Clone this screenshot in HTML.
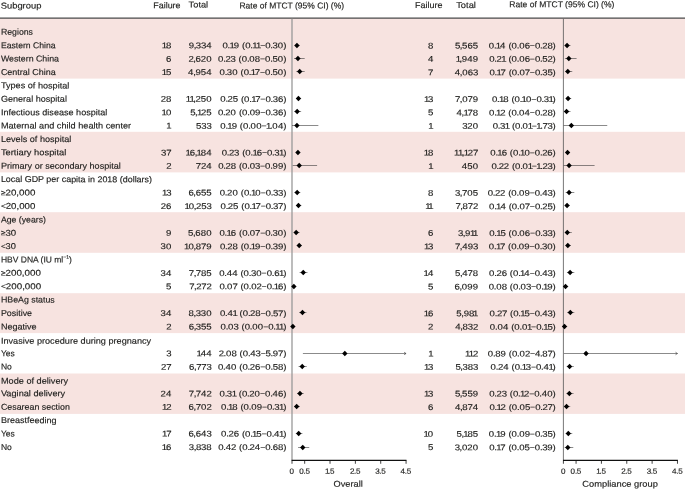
<!DOCTYPE html>
<html lang="en"><head><meta charset="utf-8"><title>Subgroup analysis of MTCT rate</title>
<style>html,body{margin:0;padding:0;background:#fff}svg{display:block}text{font-family:"Liberation Sans",sans-serif;fill:#1d1d1b;stroke:#1d1d1b;stroke-width:0.15px}</style></head><body>
<svg width="685" height="489" viewBox="0 0 685 489" font-size="8.5">
<rect width="685" height="489" fill="#fff"/>
<rect x="0" y="18.30" width="685" height="60.30" fill="#f7e3e0"/>
<rect x="0" y="131.80" width="685" height="40.60" fill="#f7e3e0"/>
<rect x="0" y="212.20" width="685" height="40.60" fill="#f7e3e0"/>
<rect x="0" y="293.20" width="685" height="39.90" fill="#f7e3e0"/>
<rect x="0" y="373.50" width="685" height="40.40" fill="#f7e3e0"/>
<text transform="translate(0.70 8.5) rotate(0.03)" textLength="40.70" lengthAdjust="spacingAndGlyphs">Subgroup</text>
<text transform="translate(153.30 8.2) rotate(0.03)" textLength="27.20" lengthAdjust="spacingAndGlyphs">Failure</text>
<text transform="translate(188.60 7.4) rotate(0.03)" textLength="19.60" lengthAdjust="spacingAndGlyphs">Total</text>
<text transform="translate(239.40 8.4) rotate(0.03)" textLength="104.70" lengthAdjust="spacingAndGlyphs">Rate of MTCT (95% CI) (%)</text>
<text transform="translate(415.10 8.05) rotate(0.03)" textLength="27.40" lengthAdjust="spacingAndGlyphs">Failure</text>
<text transform="translate(456.20 8.05) rotate(0.03)" textLength="19.70" lengthAdjust="spacingAndGlyphs">Total</text>
<text transform="translate(509.30 7.2) rotate(0.03)" textLength="105.10" lengthAdjust="spacingAndGlyphs">Rate of MTCT (95% CI) (%)</text>
<line x1="0" y1="18.2" x2="685" y2="18.2" stroke="#484848" stroke-width="1.2"/>
<text id="lab0" transform="translate(0.9 34.80) rotate(0.03)" textLength="32.07" lengthAdjust="spacingAndGlyphs">Regions</text>
<text id="lab1" transform="translate(0.9 48.19) rotate(0.03)" textLength="54.65" lengthAdjust="spacingAndGlyphs">Eastern China</text>
<text transform="translate(0 48.19) rotate(0.03) scale(1.157 1)" font-size="8.3" x="139.85 143.50" y="0">18</text>
<text transform="translate(0 48.19) rotate(0.03) scale(1.157 1)" font-size="8.3" x="163.08 167.39 169.26 173.66 178.25" y="0">9,334</text>
<text transform="translate(0 48.19) rotate(0.03) scale(1.157 1)" font-size="8.3" x="192.29 196.71 198.36 202.06 206.84 209.16 211.91 216.33 217.98 221.31 225.27 229.24 233.66 235.55 240.17 244.77" y="0">0.19 (0.11<tspan font-size="6.4" dy="-1.15">–</tspan><tspan dy="1.15">0.30)</tspan></text>
<text transform="translate(0 48.19) rotate(0.03) scale(1.157 1)" font-size="8.3" x="369.95" y="0">8</text>
<text transform="translate(0 48.19) rotate(0.03) scale(1.157 1)" font-size="8.3" x="393.20 397.46 399.42 404.05 408.67" y="0">5,565</text>
<text transform="translate(0 48.19) rotate(0.03) scale(1.157 1)" font-size="8.3" x="422.45 426.87 428.53 432.26 437.09 439.41 442.16 446.58 448.69 453.44 458.38 462.34 466.76 468.65 473.15 477.62" y="0">0.14 (0.06<tspan font-size="6.4" dy="-1.15">–</tspan><tspan dy="1.15">0.28)</tspan></text>
<text id="lab2" transform="translate(0.9 61.58) rotate(0.03)" textLength="58.12" lengthAdjust="spacingAndGlyphs">Western China</text>
<text transform="translate(0 61.58) rotate(0.03) scale(1.157 1)" font-size="8.3" x="143.46" y="0">6</text>
<text transform="translate(0 61.58) rotate(0.03) scale(1.157 1)" font-size="8.3" x="162.86 167.04 169.04 173.58 178.20" y="0">2,620</text>
<text transform="translate(0 61.58) rotate(0.03) scale(1.157 1)" font-size="8.3" x="188.53 192.95 194.84 199.25 203.90 206.22 208.97 213.39 215.50 220.21 225.10 229.07 233.48 235.46 240.17 244.77" y="0">0.23 (0.08<tspan font-size="6.4" dy="-1.15">–</tspan><tspan dy="1.15">0.50)</tspan></text>
<text transform="translate(0 61.58) rotate(0.03) scale(1.157 1)" font-size="8.3" x="369.86" y="0">4</text>
<text transform="translate(0 61.58) rotate(0.03) scale(1.157 1)" font-size="8.3" x="393.87 397.20 399.21 403.92 408.63" y="0">1,949</text>
<text transform="translate(0 61.58) rotate(0.03) scale(1.157 1)" font-size="8.3" x="422.80 427.22 429.11 433.28 437.09 439.41 442.16 446.58 448.69 453.44 458.38 462.34 466.76 468.74 473.23 477.62" y="0">0.21 (0.06<tspan font-size="6.4" dy="-1.15">–</tspan><tspan dy="1.15">0.52)</tspan></text>
<text id="lab3" transform="translate(0.9 74.97) rotate(0.03)" textLength="54.76" lengthAdjust="spacingAndGlyphs">Central China</text>
<text transform="translate(0 74.97) rotate(0.03) scale(1.157 1)" font-size="8.3" x="139.85 143.50" y="0">15</text>
<text transform="translate(0 74.97) rotate(0.03) scale(1.157 1)" font-size="8.3" x="162.60 166.95 168.95 173.58 178.25" y="0">4,954</text>
<text transform="translate(0 74.97) rotate(0.03) scale(1.157 1)" font-size="8.3" x="189.78 194.20 196.09 200.72 205.59 207.91 210.66 215.07 216.73 220.29 225.10 229.07 233.48 235.46 240.17 244.77" y="0">0.30 (0.17<tspan font-size="6.4" dy="-1.15">–</tspan><tspan dy="1.15">0.50)</tspan></text>
<text transform="translate(0 74.97) rotate(0.03) scale(1.157 1)" font-size="8.3" x="370.03" y="0">7</text>
<text transform="translate(0 74.97) rotate(0.03) scale(1.157 1)" font-size="8.3" x="393.03 397.38 399.46 404.22 408.76" y="0">4,063</text>
<text transform="translate(0 74.97) rotate(0.03) scale(1.157 1)" font-size="8.3" x="423.06 427.48 429.13 432.70 437.35 439.67 442.42 446.84 448.95 453.57 458.38 462.34 466.76 468.65 473.15 477.62" y="0">0.17 (0.07<tspan font-size="6.4" dy="-1.15">–</tspan><tspan dy="1.15">0.35)</tspan></text>
<text id="lab4" transform="translate(0.9 88.36) rotate(0.03)" textLength="68.44" lengthAdjust="spacingAndGlyphs">Types of hospital</text>
<text id="lab5" transform="translate(0.9 101.75) rotate(0.03)" textLength="66.04" lengthAdjust="spacingAndGlyphs">General hospital</text>
<text transform="translate(0 101.75) rotate(0.03) scale(1.157 1)" font-size="8.3" x="139.01 143.50" y="0">28</text>
<text transform="translate(0 101.75) rotate(0.03) scale(1.157 1)" font-size="8.3" x="160.46 163.79 167.13 169.00 173.49 178.20" y="0">11,250</text>
<text transform="translate(0 101.75) rotate(0.03) scale(1.157 1)" font-size="8.3" x="190.39 194.81 196.70 201.19 205.93 208.26 211.00 215.42 217.07 220.64 225.45 229.41 233.83 235.72 240.26 244.77" y="0">0.25 (0.17<tspan font-size="6.4" dy="-1.15">–</tspan><tspan dy="1.15">0.36)</tspan></text>
<text transform="translate(0 101.75) rotate(0.03) scale(1.157 1)" font-size="8.3" x="366.47 370.03" y="0">13</text>
<text transform="translate(0 101.75) rotate(0.03) scale(1.157 1)" font-size="8.3" x="393.20 397.38 399.46 404.09 408.63" y="0">7,079</text>
<text transform="translate(0 101.75) rotate(0.03) scale(1.157 1)" font-size="8.3" x="425.22 429.64 431.29 434.94 439.68 442.01 444.75 449.17 450.83 454.61 459.63 463.60 468.01 469.91 474.08 477.62" y="0">0.18 (0.10<tspan font-size="6.4" dy="-1.15">–</tspan><tspan dy="1.15">0.31)</tspan></text>
<text id="lab6" transform="translate(0.9 115.14) rotate(0.03)" textLength="106.47" lengthAdjust="spacingAndGlyphs">Infectious disease hospital</text>
<text transform="translate(0 115.14) rotate(0.03) scale(1.157 1)" font-size="8.3" x="139.59 143.37" y="0">10</text>
<text transform="translate(0 115.14) rotate(0.03) scale(1.157 1)" font-size="8.3" x="164.37 168.64 170.27 173.84 178.33" y="0">5,125</text>
<text transform="translate(0 115.14) rotate(0.03) scale(1.157 1)" font-size="8.3" x="188.36 192.77 194.67 199.29 204.16 206.48 209.23 213.65 215.76 220.51 225.45 229.41 233.83 235.72 240.26 244.77" y="0">0.20 (0.09<tspan font-size="6.4" dy="-1.15">–</tspan><tspan dy="1.15">0.36)</tspan></text>
<text transform="translate(0 115.14) rotate(0.03) scale(1.157 1)" font-size="8.3" x="369.95" y="0">5</text>
<text transform="translate(0 115.14) rotate(0.03) scale(1.157 1)" font-size="8.3" x="394.62 398.98 400.61 404.17 408.67" y="0">4,178</text>
<text transform="translate(0 115.14) rotate(0.03) scale(1.157 1)" font-size="8.3" x="422.71 427.13 428.79 432.35 437.01 439.33 442.07 446.49 448.60 453.40 458.38 462.34 466.76 468.65 473.15 477.62" y="0">0.12 (0.04<tspan font-size="6.4" dy="-1.15">–</tspan><tspan dy="1.15">0.28)</tspan></text>
<text id="lab7" transform="translate(0.9 128.53) rotate(0.03)" textLength="130.21" lengthAdjust="spacingAndGlyphs">Maternal and child health center</text>
<text transform="translate(0 128.53) rotate(0.03) scale(1.157 1)" font-size="8.3" x="143.61" y="0">1</text>
<text transform="translate(0 128.53) rotate(0.03) scale(1.157 1)" font-size="8.3" x="169.52 174.01 178.42" y="0">533</text>
<text transform="translate(0 128.53) rotate(0.03) scale(1.157 1)" font-size="8.3" x="190.43 194.85 196.50 200.20 204.98 207.30 210.05 214.47 216.58 221.42 226.44 229.95 233.31 235.42 240.22 244.77" y="0">0.19 (0.00<tspan font-size="6.4" dy="-1.15">–</tspan><tspan dy="1.15">1.04)</tspan></text>
<text transform="translate(0 128.53) rotate(0.03) scale(1.157 1)" font-size="8.3" x="370.06" y="0">1</text>
<text transform="translate(0 128.53) rotate(0.03) scale(1.157 1)" font-size="8.3" x="399.51 403.92 408.54" y="0">320</text>
<text transform="translate(0 128.53) rotate(0.03) scale(1.157 1)" font-size="8.3" x="425.83 430.24 432.14 436.31 440.12 442.44 445.19 449.60 451.71 456.10 460.06 463.57 466.93 468.82 473.23 477.62" y="0">0.31 (0.01<tspan font-size="6.4" dy="-1.15">–</tspan><tspan dy="1.15">1.73)</tspan></text>
<text id="lab8" transform="translate(0.9 141.92) rotate(0.03)" textLength="70.42" lengthAdjust="spacingAndGlyphs">Levels of hospital</text>
<text id="lab9" transform="translate(0.9 155.31) rotate(0.03)" textLength="65.35" lengthAdjust="spacingAndGlyphs">Tertiary hospital</text>
<text transform="translate(0 155.31) rotate(0.03) scale(1.157 1)" font-size="8.3" x="139.18 143.59" y="0">37</text>
<text transform="translate(0 155.31) rotate(0.03) scale(1.157 1)" font-size="8.3" x="160.29 163.98 168.29 169.93 173.58 178.25" y="0">16,184</text>
<text transform="translate(0 155.31) rotate(0.03) scale(1.157 1)" font-size="8.3" x="191.64 196.06 197.95 202.36 207.01 209.34 212.08 216.50 218.16 221.85 226.79 230.75 235.17 237.06 241.23 244.77" y="0">0.23 (0.16<tspan font-size="6.4" dy="-1.15">–</tspan><tspan dy="1.15">0.31)</tspan></text>
<text transform="translate(0 155.31) rotate(0.03) scale(1.157 1)" font-size="8.3" x="366.30 369.95" y="0">18</text>
<text transform="translate(0 155.31) rotate(0.03) scale(1.157 1)" font-size="8.3" x="392.49 395.81 399.15 400.78 404.35 408.76" y="0">11,127</text>
<text transform="translate(0 155.31) rotate(0.03) scale(1.157 1)" font-size="8.3" x="423.79 428.21 429.87 433.56 438.35 440.67 443.41 447.83 449.49 453.27 458.29 462.26 466.67 468.57 473.10 477.62" y="0">0.16 (0.10<tspan font-size="6.4" dy="-1.15">–</tspan><tspan dy="1.15">0.26)</tspan></text>
<text id="lab10" transform="translate(0.9 168.70) rotate(0.03)" textLength="119.93" lengthAdjust="spacingAndGlyphs">Primary or secondary hospital</text>
<text transform="translate(0 168.70) rotate(0.03) scale(1.157 1)" font-size="8.3" x="143.59" y="0">2</text>
<text transform="translate(0 168.70) rotate(0.03) scale(1.157 1)" font-size="8.3" x="169.26 173.66 178.25" y="0">724</text>
<text transform="translate(0 168.70) rotate(0.03) scale(1.157 1)" font-size="8.3" x="188.62 193.03 194.93 199.42 204.16 206.48 209.23 213.65 215.76 220.38 225.19 229.15 233.57 235.59 240.26 244.77" y="0">0.28 (0.03<tspan font-size="6.4" dy="-1.15">–</tspan><tspan dy="1.15">0.99)</tspan></text>
<text transform="translate(0 168.70) rotate(0.03) scale(1.157 1)" font-size="8.3" x="370.06" y="0">1</text>
<text transform="translate(0 168.70) rotate(0.03) scale(1.157 1)" font-size="8.3" x="399.16 403.83 408.54" y="0">450</text>
<text transform="translate(0 168.70) rotate(0.03) scale(1.157 1)" font-size="8.3" x="424.75 429.16 431.05 435.46 440.12 442.44 445.19 449.60 451.71 456.10 460.06 463.57 466.93 468.82 473.23 477.62" y="0">0.22 (0.01<tspan font-size="6.4" dy="-1.15">–</tspan><tspan dy="1.15">1.23)</tspan></text>
<text id="lab11" transform="translate(0.9 182.09) rotate(0.03)" textLength="151.09" lengthAdjust="spacingAndGlyphs">Local GDP per capita in 2018 (dollars)</text>
<text id="lab12" transform="translate(0.9 195.48) rotate(0.03)" textLength="34.46" lengthAdjust="spacingAndGlyphs"><tspan font-size="7.3" dy="-0.3">≥</tspan><tspan dy="0.3">20,000</tspan></text>
<text transform="translate(0 195.48) rotate(0.03) scale(1.157 1)" font-size="8.3" x="140.02 143.59" y="0">13</text>
<text transform="translate(0 195.48) rotate(0.03) scale(1.157 1)" font-size="8.3" x="162.82 167.13 169.13 173.75 178.33" y="0">6,655</text>
<text transform="translate(0 195.48) rotate(0.03) scale(1.157 1)" font-size="8.3" x="189.96 194.37 196.27 200.89 205.76 208.08 210.83 215.25 216.90 220.68 225.71 229.67 234.09 235.98 240.39 244.77" y="0">0.20 (0.10<tspan font-size="6.4" dy="-1.15">–</tspan><tspan dy="1.15">0.33)</tspan></text>
<text transform="translate(0 195.48) rotate(0.03) scale(1.157 1)" font-size="8.3" x="369.95" y="0">8</text>
<text transform="translate(0 195.48) rotate(0.03) scale(1.157 1)" font-size="8.3" x="393.28 397.46 399.33 403.96 408.67" y="0">3,705</text>
<text transform="translate(0 195.48) rotate(0.03) scale(1.157 1)" font-size="8.3" x="421.55 425.96 427.86 432.26 436.92 439.24 441.99 446.40 448.51 453.27 458.20 462.17 466.59 468.65 473.23 477.62" y="0">0.22 (0.09<tspan font-size="6.4" dy="-1.15">–</tspan><tspan dy="1.15">0.43)</tspan></text>
<text id="lab13" transform="translate(0.9 208.87) rotate(0.03)" textLength="34.44" lengthAdjust="spacingAndGlyphs"><tspan font-size="7.3" dy="-0.4">&lt;</tspan><tspan dy="0.4">20,000</tspan></text>
<text transform="translate(0 208.87) rotate(0.03) scale(1.157 1)" font-size="8.3" x="138.92 143.46" y="0">26</text>
<text transform="translate(0 208.87) rotate(0.03) scale(1.157 1)" font-size="8.3" x="159.38 163.16 167.56 169.43 173.92 178.42" y="0">10,253</text>
<text transform="translate(0 208.87) rotate(0.03) scale(1.157 1)" font-size="8.3" x="190.65 195.06 196.96 201.45 206.19 208.51 211.26 215.68 217.33 220.90 225.71 229.67 234.09 235.98 240.39 244.77" y="0">0.25 (0.17<tspan font-size="6.4" dy="-1.15">–</tspan><tspan dy="1.15">0.37)</tspan></text>
<text transform="translate(0 208.87) rotate(0.03) scale(1.157 1)" font-size="8.3" x="367.55 370.06" y="0">11</text>
<text transform="translate(0 208.87) rotate(0.03) scale(1.157 1)" font-size="8.3" x="393.72 397.90 399.85 404.35 408.76" y="0">7,872</text>
<text transform="translate(0 208.87) rotate(0.03) scale(1.157 1)" font-size="8.3" x="422.71 427.13 428.79 432.52 437.35 439.67 442.42 446.84 448.95 453.57 458.38 462.34 466.76 468.65 473.15 477.62" y="0">0.14 (0.07<tspan font-size="6.4" dy="-1.15">–</tspan><tspan dy="1.15">0.25)</tspan></text>
<text id="lab14" transform="translate(0.9 222.56) rotate(0.03)" textLength="45.03" lengthAdjust="spacingAndGlyphs">Age (years)</text>
<text id="lab15" transform="translate(0.9 235.65) rotate(0.03)" textLength="15.31" lengthAdjust="spacingAndGlyphs"><tspan font-size="7.3" dy="-0.3">≥</tspan><tspan dy="0.3">30</tspan></text>
<text transform="translate(0 235.65) rotate(0.03) scale(1.157 1)" font-size="8.3" x="143.46" y="0">9</text>
<text transform="translate(0 235.65) rotate(0.03) scale(1.157 1)" font-size="8.3" x="162.60 166.87 168.87 173.49 178.20" y="0">5,680</text>
<text transform="translate(0 235.65) rotate(0.03) scale(1.157 1)" font-size="8.3" x="189.70 194.11 195.77 199.46 204.25 206.57 209.32 213.73 215.84 220.47 225.27 229.24 233.66 235.55 240.17 244.77" y="0">0.16 (0.07<tspan font-size="6.4" dy="-1.15">–</tspan><tspan dy="1.15">0.30)</tspan></text>
<text transform="translate(0 235.65) rotate(0.03) scale(1.157 1)" font-size="8.3" x="369.91" y="0">6</text>
<text transform="translate(0 235.65) rotate(0.03) scale(1.157 1)" font-size="8.3" x="395.79 399.97 401.97 406.27 408.78" y="0">3,911</text>
<text transform="translate(0 235.65) rotate(0.03) scale(1.157 1)" font-size="8.3" x="422.80 427.22 428.87 432.52 437.26 439.59 442.33 446.75 448.86 453.61 458.55 462.52 466.93 468.82 473.23 477.62" y="0">0.15 (0.06<tspan font-size="6.4" dy="-1.15">–</tspan><tspan dy="1.15">0.33)</tspan></text>
<text id="lab16" transform="translate(0.9 249.04) rotate(0.03)" textLength="14.97" lengthAdjust="spacingAndGlyphs"><tspan font-size="7.3" dy="-0.4">&lt;</tspan><tspan dy="0.4">30</tspan></text>
<text transform="translate(0 249.04) rotate(0.03) scale(1.157 1)" font-size="8.3" x="138.75 143.37" y="0">30</text>
<text transform="translate(0 249.04) rotate(0.03) scale(1.157 1)" font-size="8.3" x="159.12 162.90 167.30 169.26 173.75 178.29" y="0">10,879</text>
<text transform="translate(0 249.04) rotate(0.03) scale(1.157 1)" font-size="8.3" x="190.13 194.55 196.44 200.93 205.67 208.00 210.74 215.16 216.82 220.51 225.45 229.41 233.83 235.72 240.26 244.77" y="0">0.28 (0.19<tspan font-size="6.4" dy="-1.15">–</tspan><tspan dy="1.15">0.39)</tspan></text>
<text transform="translate(0 249.04) rotate(0.03) scale(1.157 1)" font-size="8.3" x="366.47 370.03" y="0">13</text>
<text transform="translate(0 249.04) rotate(0.03) scale(1.157 1)" font-size="8.3" x="393.28 397.46 399.51 404.22 408.76" y="0">7,493</text>
<text transform="translate(0 249.04) rotate(0.03) scale(1.157 1)" font-size="8.3" x="422.54 426.96 428.61 432.18 436.83 439.15 441.90 446.32 448.43 453.18 458.12 462.08 466.50 468.39 473.02 477.62" y="0">0.17 (0.09<tspan font-size="6.4" dy="-1.15">–</tspan><tspan dy="1.15">0.30)</tspan></text>
<text id="lab17" transform="translate(0.9 262.43) rotate(0.03)" textLength="71.00" lengthAdjust="spacingAndGlyphs">HBV DNA (IU ml<tspan font-size="5.1" dy="-3.6">−1</tspan><tspan dy="3.6">)</tspan></text>
<text id="lab18" transform="translate(0.9 275.82) rotate(0.03)" textLength="40.04" lengthAdjust="spacingAndGlyphs"><tspan font-size="7.3" dy="-0.3">≥</tspan><tspan dy="0.3">200,000</tspan></text>
<text transform="translate(0 275.82) rotate(0.03) scale(1.157 1)" font-size="8.3" x="138.83 143.41" y="0">34</text>
<text transform="translate(0 275.82) rotate(0.03) scale(1.157 1)" font-size="8.3" x="163.21 167.39 169.26 173.75 178.33" y="0">7,785</text>
<text transform="translate(0 275.82) rotate(0.03) scale(1.157 1)" font-size="8.3" x="189.44 193.85 195.92 200.67 205.50 207.82 210.57 214.99 216.88 221.50 226.53 230.49 234.91 236.93 241.23 244.77" y="0">0.44 (0.30<tspan font-size="6.4" dy="-1.15">–</tspan><tspan dy="1.15">0.61)</tspan></text>
<text transform="translate(0 275.82) rotate(0.03) scale(1.157 1)" font-size="8.3" x="366.12 369.86" y="0">14</text>
<text transform="translate(0 275.82) rotate(0.03) scale(1.157 1)" font-size="8.3" x="393.28 397.55 399.59 404.17 408.67" y="0">5,478</text>
<text transform="translate(0 275.82) rotate(0.03) scale(1.157 1)" font-size="8.3" x="422.71 427.13 429.02 433.56 438.35 440.67 443.41 447.83 449.49 453.22 458.20 462.17 466.59 468.65 473.23 477.62" y="0">0.26 (0.14<tspan font-size="6.4" dy="-1.15">–</tspan><tspan dy="1.15">0.43)</tspan></text>
<text id="lab19" transform="translate(0.9 289.21) rotate(0.03)" textLength="40.29" lengthAdjust="spacingAndGlyphs"><tspan font-size="7.3" dy="-0.4">&lt;</tspan><tspan dy="0.4">200,000</tspan></text>
<text transform="translate(0 289.21) rotate(0.03) scale(1.157 1)" font-size="8.3" x="143.50" y="0">5</text>
<text transform="translate(0 289.21) rotate(0.03) scale(1.157 1)" font-size="8.3" x="163.55 167.73 169.60 174.01 178.42" y="0">7,272</text>
<text transform="translate(0 289.21) rotate(0.03) scale(1.157 1)" font-size="8.3" x="189.70 194.11 196.22 200.85 205.50 207.82 210.57 214.99 217.10 221.72 226.53 230.49 234.91 236.56 240.26 244.77" y="0">0.07 (0.02<tspan font-size="6.4" dy="-1.15">–</tspan><tspan dy="1.15">0.16)</tspan></text>
<text transform="translate(0 289.21) rotate(0.03) scale(1.157 1)" font-size="8.3" x="369.95" y="0">5</text>
<text transform="translate(0 289.21) rotate(0.03) scale(1.157 1)" font-size="8.3" x="392.81 397.12 399.21 403.96 408.63" y="0">6,099</text>
<text transform="translate(0 289.21) rotate(0.03) scale(1.157 1)" font-size="8.3" x="422.37 426.78 428.89 433.60 438.35 440.67 443.41 447.83 449.94 454.56 459.37 463.34 467.75 469.41 473.10 477.62" y="0">0.08 (0.03<tspan font-size="6.4" dy="-1.15">–</tspan><tspan dy="1.15">0.19)</tspan></text>
<text id="lab20" transform="translate(0.9 302.60) rotate(0.03)" textLength="53.89" lengthAdjust="spacingAndGlyphs">HBeAg status</text>
<text id="lab21" transform="translate(0.9 315.99) rotate(0.03)" textLength="31.18" lengthAdjust="spacingAndGlyphs">Positive</text>
<text transform="translate(0 315.99) rotate(0.03) scale(1.157 1)" font-size="8.3" x="138.83 143.41" y="0">34</text>
<text transform="translate(0 315.99) rotate(0.03) scale(1.157 1)" font-size="8.3" x="163.03 167.30 169.17 173.58 178.20" y="0">8,330</text>
<text transform="translate(0 315.99) rotate(0.03) scale(1.157 1)" font-size="8.3" x="190.13 194.55 196.61 200.96 204.77 207.09 209.84 214.25 216.15 220.64 225.53 229.50 233.92 235.89 240.39 244.77" y="0">0.41 (0.28<tspan font-size="6.4" dy="-1.15">–</tspan><tspan dy="1.15">0.57)</tspan></text>
<text transform="translate(0 315.99) rotate(0.03) scale(1.157 1)" font-size="8.3" x="366.21 369.91" y="0">16</text>
<text transform="translate(0 315.99) rotate(0.03) scale(1.157 1)" font-size="8.3" x="394.45 398.72 400.72 405.34 408.78" y="0">5,981</text>
<text transform="translate(0 315.99) rotate(0.03) scale(1.157 1)" font-size="8.3" x="423.15 427.56 429.46 433.86 438.52 440.84 443.59 448.00 449.66 453.31 458.20 462.17 466.59 468.65 473.23 477.62" y="0">0.27 (0.15<tspan font-size="6.4" dy="-1.15">–</tspan><tspan dy="1.15">0.43)</tspan></text>
<text id="lab22" transform="translate(0.9 329.38) rotate(0.03)" textLength="35.64" lengthAdjust="spacingAndGlyphs">Negative</text>
<text transform="translate(0 329.38) rotate(0.03) scale(1.157 1)" font-size="8.3" x="143.59" y="0">2</text>
<text transform="translate(0 329.38) rotate(0.03) scale(1.157 1)" font-size="8.3" x="163.08 167.39 169.26 173.75 178.33" y="0">6,355</text>
<text transform="translate(0 329.38) rotate(0.03) scale(1.157 1)" font-size="8.3" x="190.61 195.02 197.13 201.75 206.41 208.73 211.48 215.89 218.00 222.84 227.87 231.83 236.25 237.90 241.23 244.77" y="0">0.03 (0.00<tspan font-size="6.4" dy="-1.15">–</tspan><tspan dy="1.15">0.11)</tspan></text>
<text transform="translate(0 329.38) rotate(0.03) scale(1.157 1)" font-size="8.3" x="370.03" y="0">2</text>
<text transform="translate(0 329.38) rotate(0.03) scale(1.157 1)" font-size="8.3" x="393.54 397.90 399.85 404.35 408.76" y="0">4,832</text>
<text transform="translate(0 329.38) rotate(0.03) scale(1.157 1)" font-size="8.3" x="423.36 427.78 429.89 434.68 439.51 441.83 444.58 449.00 451.11 455.49 459.46 463.42 467.84 469.49 473.15 477.62" y="0">0.04 (0.01<tspan font-size="6.4" dy="-1.15">–</tspan><tspan dy="1.15">0.15)</tspan></text>
<text id="lab23" transform="translate(0.9 343.77) rotate(0.03)" textLength="150.21" lengthAdjust="spacingAndGlyphs">Invasive procedure during pregnancy</text>
<text id="lab24" transform="translate(0.9 356.16) rotate(0.03)" textLength="13.88" lengthAdjust="spacingAndGlyphs">Yes</text>
<text transform="translate(0 356.16) rotate(0.03) scale(1.157 1)" font-size="8.3" x="143.59" y="0">3</text>
<text transform="translate(0 356.16) rotate(0.03) scale(1.157 1)" font-size="8.3" x="169.75 173.49 178.25" y="0">144</text>
<text transform="translate(0 356.16) rotate(0.03) scale(1.157 1)" font-size="8.3" x="189.01 193.21 195.32 200.03 204.77 207.09 209.84 214.25 216.32 220.90 225.71 229.54 233.83 235.85 240.39 244.77" y="0">2.08 (0.43<tspan font-size="6.4" dy="-1.15">–</tspan><tspan dy="1.15">5.97)</tspan></text>
<text transform="translate(0 356.16) rotate(0.03) scale(1.157 1)" font-size="8.3" x="370.06" y="0">1</text>
<text transform="translate(0 356.16) rotate(0.03) scale(1.157 1)" font-size="8.3" x="401.86 405.19 408.76" y="0">112</text>
<text transform="translate(0 356.16) rotate(0.03) scale(1.157 1)" font-size="8.3" x="421.63 426.05 428.03 432.65 437.44 439.76 442.51 446.92 449.03 453.66 458.46 462.39 466.76 468.74 473.23 477.62" y="0">0.89 (0.02<tspan font-size="6.4" dy="-1.15">–</tspan><tspan dy="1.15">4.87)</tspan></text>
<text id="lab25" transform="translate(0.9 369.55) rotate(0.03)" textLength="10.88" lengthAdjust="spacingAndGlyphs">No</text>
<text transform="translate(0 369.55) rotate(0.03) scale(1.157 1)" font-size="8.3" x="139.18 143.59" y="0">27</text>
<text transform="translate(0 369.55) rotate(0.03) scale(1.157 1)" font-size="8.3" x="163.42 167.73 169.60 174.01 178.42" y="0">6,773</text>
<text transform="translate(0 369.55) rotate(0.03) scale(1.157 1)" font-size="8.3" x="188.36 192.77 194.84 199.64 204.51 206.83 209.58 213.99 215.89 220.42 225.36 229.33 233.74 235.72 240.30 244.77" y="0">0.40 (0.26<tspan font-size="6.4" dy="-1.15">–</tspan><tspan dy="1.15">0.58)</tspan></text>
<text transform="translate(0 369.55) rotate(0.03) scale(1.157 1)" font-size="8.3" x="366.47 370.03" y="0">13</text>
<text transform="translate(0 369.55) rotate(0.03) scale(1.157 1)" font-size="8.3" x="393.63 397.90 399.77 404.26 408.76" y="0">5,383</text>
<text transform="translate(0 369.55) rotate(0.03) scale(1.157 1)" font-size="8.3" x="424.05 428.47 430.36 434.94 439.77 442.09 444.84 449.26 450.91 454.48 459.28 463.25 467.67 469.73 474.08 477.62" y="0">0.24 (0.13<tspan font-size="6.4" dy="-1.15">–</tspan><tspan dy="1.15">0.41)</tspan></text>
<text id="lab26" transform="translate(0.9 383.84) rotate(0.03)" textLength="67.30" lengthAdjust="spacingAndGlyphs">Mode of delivery</text>
<text id="lab27" transform="translate(0.9 396.33) rotate(0.03)" textLength="64.28" lengthAdjust="spacingAndGlyphs">Vaginal delivery</text>
<text transform="translate(0 396.33) rotate(0.03) scale(1.157 1)" font-size="8.3" x="138.83 143.41" y="0">24</text>
<text transform="translate(0 396.33) rotate(0.03) scale(1.157 1)" font-size="8.3" x="163.21 167.39 169.26 173.84 178.42" y="0">7,742</text>
<text transform="translate(0 396.33) rotate(0.03) scale(1.157 1)" font-size="8.3" x="189.78 194.20 196.09 200.26 204.08 206.40 209.14 213.56 215.45 220.08 225.10 229.07 233.48 235.55 240.26 244.77" y="0">0.31 (0.20<tspan font-size="6.4" dy="-1.15">–</tspan><tspan dy="1.15">0.46)</tspan></text>
<text transform="translate(0 396.33) rotate(0.03) scale(1.157 1)" font-size="8.3" x="366.47 370.03" y="0">13</text>
<text transform="translate(0 396.33) rotate(0.03) scale(1.157 1)" font-size="8.3" x="393.20 397.46 399.42 404.00 408.63" y="0">5,559</text>
<text transform="translate(0 396.33) rotate(0.03) scale(1.157 1)" font-size="8.3" x="422.89 427.30 429.20 433.60 438.26 440.58 443.33 447.74 449.40 452.96 457.77 461.74 466.15 468.22 473.02 477.62" y="0">0.23 (0.12<tspan font-size="6.4" dy="-1.15">–</tspan><tspan dy="1.15">0.40)</tspan></text>
<text id="lab28" transform="translate(0.9 409.72) rotate(0.03)" textLength="68.95" lengthAdjust="spacingAndGlyphs">Cesarean section</text>
<text transform="translate(0 409.72) rotate(0.03) scale(1.157 1)" font-size="8.3" x="140.02 143.59" y="0">12</text>
<text transform="translate(0 409.72) rotate(0.03) scale(1.157 1)" font-size="8.3" x="162.99 167.30 169.17 173.79 178.42" y="0">6,702</text>
<text transform="translate(0 409.72) rotate(0.03) scale(1.157 1)" font-size="8.3" x="191.04 195.45 197.11 200.76 205.50 207.82 210.57 214.99 217.10 221.85 226.79 230.75 235.17 237.06 241.23 244.77" y="0">0.18 (0.09<tspan font-size="6.4" dy="-1.15">–</tspan><tspan dy="1.15">0.31)</tspan></text>
<text transform="translate(0 409.72) rotate(0.03) scale(1.157 1)" font-size="8.3" x="369.91" y="0">6</text>
<text transform="translate(0 409.72) rotate(0.03) scale(1.157 1)" font-size="8.3" x="393.20 397.55 399.51 404.00 408.58" y="0">4,874</text>
<text transform="translate(0 409.72) rotate(0.03) scale(1.157 1)" font-size="8.3" x="423.06 427.48 429.13 432.70 437.35 439.67 442.42 446.84 448.95 453.66 458.55 462.52 466.93 468.82 473.23 477.62" y="0">0.12 (0.05<tspan font-size="6.4" dy="-1.15">–</tspan><tspan dy="1.15">0.27)</tspan></text>
<text id="lab29" transform="translate(0.9 423.11) rotate(0.03)" textLength="55.70" lengthAdjust="spacingAndGlyphs">Breastfeeding</text>
<text id="lab30" transform="translate(0.9 436.50) rotate(0.03)" textLength="13.88" lengthAdjust="spacingAndGlyphs">Yes</text>
<text transform="translate(0 436.50) rotate(0.03) scale(1.157 1)" font-size="8.3" x="140.02 143.59" y="0">17</text>
<text transform="translate(0 436.50) rotate(0.03) scale(1.157 1)" font-size="8.3" x="162.82 167.13 169.13 173.84 178.42" y="0">6,643</text>
<text transform="translate(0 436.50) rotate(0.03) scale(1.157 1)" font-size="8.3" x="191.12 195.54 197.43 201.97 206.75 209.08 211.82 216.24 217.90 221.55 226.44 230.41 234.82 236.89 241.23 244.77" y="0">0.26 (0.15<tspan font-size="6.4" dy="-1.15">–</tspan><tspan dy="1.15">0.41)</tspan></text>
<text transform="translate(0 436.50) rotate(0.03) scale(1.157 1)" font-size="8.3" x="366.04 369.82" y="0">10</text>
<text transform="translate(0 436.50) rotate(0.03) scale(1.157 1)" font-size="8.3" x="394.54 398.80 400.44 404.09 408.67" y="0">5,185</text>
<text transform="translate(0 436.50) rotate(0.03) scale(1.157 1)" font-size="8.3" x="422.54 426.96 428.61 432.31 437.09 439.41 442.16 446.58 448.69 453.44 458.38 462.34 466.76 468.65 473.15 477.62" y="0">0.19 (0.09<tspan font-size="6.4" dy="-1.15">–</tspan><tspan dy="1.15">0.35)</tspan></text>
<text id="lab31" transform="translate(0.9 449.89) rotate(0.03)" textLength="10.88" lengthAdjust="spacingAndGlyphs">No</text>
<text transform="translate(0 449.89) rotate(0.03) scale(1.157 1)" font-size="8.3" x="139.76 143.46" y="0">16</text>
<text transform="translate(0 449.89) rotate(0.03) scale(1.157 1)" font-size="8.3" x="163.21 167.39 169.34 173.84 178.33" y="0">3,838</text>
<text transform="translate(0 449.89) rotate(0.03) scale(1.157 1)" font-size="8.3" x="188.62 193.03 195.10 199.68 204.33 206.66 209.40 213.82 215.71 220.29 225.27 229.24 233.66 235.68 240.30 244.77" y="0">0.42 (0.24<tspan font-size="6.4" dy="-1.15">–</tspan><tspan dy="1.15">0.68)</tspan></text>
<text transform="translate(0 449.89) rotate(0.03) scale(1.157 1)" font-size="8.3" x="369.95" y="0">5</text>
<text transform="translate(0 449.89) rotate(0.03) scale(1.157 1)" font-size="8.3" x="393.03 397.20 399.29 403.92 408.54" y="0">3,020</text>
<text transform="translate(0 449.89) rotate(0.03) scale(1.157 1)" font-size="8.3" x="422.80 427.22 428.87 432.44 437.09 439.41 442.16 446.58 448.69 453.40 458.29 462.26 466.67 468.57 473.10 477.62" y="0">0.17 (0.05<tspan font-size="6.4" dy="-1.15">–</tspan><tspan dy="1.15">0.39)</tspan></text>
<line x1="292" y1="18.8" x2="292" y2="460.35" stroke="#999999" stroke-width="1.3"/>
<line x1="294.79" y1="45.50" x2="299.61" y2="45.50" stroke="#2a2a2a" stroke-width="0.55"/>
<path d="M294.22 45.50 l2.7 -2.7 l2.7 2.7 l-2.7 2.7 z" fill="#000"/>
<line x1="294.03" y1="58.50" x2="304.68" y2="58.50" stroke="#2a2a2a" stroke-width="0.55"/>
<path d="M295.23 58.50 l2.7 -2.7 l2.7 2.7 l-2.7 2.7 z" fill="#000"/>
<line x1="296.31" y1="71.50" x2="304.68" y2="71.50" stroke="#2a2a2a" stroke-width="0.55"/>
<path d="M297.01 71.50 l2.7 -2.7 l2.7 2.7 l-2.7 2.7 z" fill="#000"/>
<line x1="296.31" y1="98.50" x2="301.13" y2="98.50" stroke="#2a2a2a" stroke-width="0.55"/>
<path d="M295.74 98.50 l2.7 -2.7 l2.7 2.7 l-2.7 2.7 z" fill="#000"/>
<line x1="294.28" y1="111.50" x2="301.13" y2="111.50" stroke="#2a2a2a" stroke-width="0.55"/>
<path d="M294.47 111.50 l2.7 -2.7 l2.7 2.7 l-2.7 2.7 z" fill="#000"/>
<line x1="292.00" y1="125.50" x2="318.36" y2="125.50" stroke="#2a2a2a" stroke-width="0.55"/>
<path d="M294.22 125.50 l2.7 -2.7 l2.7 2.7 l-2.7 2.7 z" fill="#000"/>
<line x1="296.06" y1="152.50" x2="299.86" y2="152.50" stroke="#2a2a2a" stroke-width="0.55"/>
<path d="M295.23 152.50 l2.7 -2.7 l2.7 2.7 l-2.7 2.7 z" fill="#000"/>
<line x1="292.76" y1="165.50" x2="317.10" y2="165.50" stroke="#2a2a2a" stroke-width="0.55"/>
<path d="M296.50 165.50 l2.7 -2.7 l2.7 2.7 l-2.7 2.7 z" fill="#000"/>
<line x1="294.54" y1="192.50" x2="300.37" y2="192.50" stroke="#2a2a2a" stroke-width="0.55"/>
<path d="M294.47 192.50 l2.7 -2.7 l2.7 2.7 l-2.7 2.7 z" fill="#000"/>
<line x1="296.31" y1="205.50" x2="301.38" y2="205.50" stroke="#2a2a2a" stroke-width="0.55"/>
<path d="M295.74 205.50 l2.7 -2.7 l2.7 2.7 l-2.7 2.7 z" fill="#000"/>
<line x1="293.77" y1="232.50" x2="299.61" y2="232.50" stroke="#2a2a2a" stroke-width="0.55"/>
<path d="M293.46 232.50 l2.7 -2.7 l2.7 2.7 l-2.7 2.7 z" fill="#000"/>
<line x1="296.82" y1="245.50" x2="301.89" y2="245.50" stroke="#2a2a2a" stroke-width="0.55"/>
<path d="M296.50 245.50 l2.7 -2.7 l2.7 2.7 l-2.7 2.7 z" fill="#000"/>
<line x1="299.61" y1="272.50" x2="307.46" y2="272.50" stroke="#2a2a2a" stroke-width="0.55"/>
<path d="M300.55 272.50 l2.7 -2.7 l2.7 2.7 l-2.7 2.7 z" fill="#000"/>
<line x1="292.51" y1="286.50" x2="296.06" y2="286.50" stroke="#2a2a2a" stroke-width="0.55"/>
<path d="M291.17 286.50 l2.7 -2.7 l2.7 2.7 l-2.7 2.7 z" fill="#000"/>
<line x1="299.10" y1="312.50" x2="306.45" y2="312.50" stroke="#2a2a2a" stroke-width="0.55"/>
<path d="M299.79 312.50 l2.7 -2.7 l2.7 2.7 l-2.7 2.7 z" fill="#000"/>
<line x1="292.00" y1="326.50" x2="294.79" y2="326.50" stroke="#2a2a2a" stroke-width="0.55"/>
<path d="M290.16 326.50 l2.7 -2.7 l2.7 2.7 l-2.7 2.7 z" fill="#000"/>
<line x1="302.90" y1="353.50" x2="406.07" y2="353.50" stroke="#2a2a2a" stroke-width="0.55"/>
<path d="M406.07 353.50 l-2 -1.3 M406.07 353.50 l-2 1.3" stroke="#2a2a2a" stroke-width="0.55" fill="none"/>
<path d="M342.13 353.50 l2.7 -2.7 l2.7 2.7 l-2.7 2.7 z" fill="#000"/>
<line x1="298.59" y1="366.50" x2="306.70" y2="366.50" stroke="#2a2a2a" stroke-width="0.55"/>
<path d="M299.54 366.50 l2.7 -2.7 l2.7 2.7 l-2.7 2.7 z" fill="#000"/>
<line x1="297.07" y1="393.50" x2="303.66" y2="393.50" stroke="#2a2a2a" stroke-width="0.55"/>
<path d="M297.26 393.50 l2.7 -2.7 l2.7 2.7 l-2.7 2.7 z" fill="#000"/>
<line x1="294.28" y1="406.50" x2="299.86" y2="406.50" stroke="#2a2a2a" stroke-width="0.55"/>
<path d="M293.96 406.50 l2.7 -2.7 l2.7 2.7 l-2.7 2.7 z" fill="#000"/>
<line x1="295.80" y1="433.50" x2="302.39" y2="433.50" stroke="#2a2a2a" stroke-width="0.55"/>
<path d="M295.99 433.50 l2.7 -2.7 l2.7 2.7 l-2.7 2.7 z" fill="#000"/>
<line x1="298.08" y1="447.50" x2="309.24" y2="447.50" stroke="#2a2a2a" stroke-width="0.55"/>
<path d="M300.05 447.50 l2.7 -2.7 l2.7 2.7 l-2.7 2.7 z" fill="#000"/>
<line x1="291.6" y1="460.35" x2="406.475" y2="460.35" stroke="#111" stroke-width="1.05"/>
<line x1="292.00" y1="460.35" x2="292.00" y2="463.75" stroke="#111" stroke-width="0.8"/>
<text transform="translate(0 473.50) rotate(0.03) scale(1.06 1)" font-size="7.6" x="273.17" y="0">0</text>
<line x1="304.68" y1="460.35" x2="304.68" y2="463.75" stroke="#111" stroke-width="0.8"/>
<text transform="translate(0 473.50) rotate(0.03) scale(1.06 1)" font-size="7.6" x="282.26 286.30 288.12" y="0">0.5</text>
<line x1="330.02" y1="460.35" x2="330.02" y2="463.75" stroke="#111" stroke-width="0.8"/>
<text transform="translate(0 473.50) rotate(0.03) scale(1.06 1)" font-size="7.6" x="306.50 309.52 311.34" y="0">1.5</text>
<line x1="355.38" y1="460.35" x2="355.38" y2="463.75" stroke="#111" stroke-width="0.8"/>
<text transform="translate(0 473.50) rotate(0.03) scale(1.06 1)" font-size="7.6" x="330.09 333.94 335.75" y="0">2.5</text>
<line x1="380.73" y1="460.35" x2="380.73" y2="463.75" stroke="#111" stroke-width="0.8"/>
<text transform="translate(0 473.50) rotate(0.03) scale(1.06 1)" font-size="7.6" x="354.00 357.85 359.67" y="0">3.5</text>
<line x1="406.07" y1="460.35" x2="406.07" y2="463.75" stroke="#111" stroke-width="0.8"/>
<text transform="translate(0 473.50) rotate(0.03) scale(1.06 1)" font-size="7.6" x="377.92 381.92 383.74" y="0">4.5</text>
<line x1="563.4" y1="18.8" x2="563.4" y2="460.35" stroke="#555555" stroke-width="0.8"/>
<line x1="564.92" y1="45.50" x2="570.50" y2="45.50" stroke="#2a2a2a" stroke-width="0.55"/>
<path d="M564.35 45.50 l2.7 -2.7 l2.7 2.7 l-2.7 2.7 z" fill="#000"/>
<line x1="564.92" y1="58.50" x2="576.58" y2="58.50" stroke="#2a2a2a" stroke-width="0.55"/>
<path d="M566.12 58.50 l2.7 -2.7 l2.7 2.7 l-2.7 2.7 z" fill="#000"/>
<line x1="565.17" y1="71.50" x2="572.27" y2="71.50" stroke="#2a2a2a" stroke-width="0.55"/>
<path d="M565.11 71.50 l2.7 -2.7 l2.7 2.7 l-2.7 2.7 z" fill="#000"/>
<line x1="565.93" y1="98.50" x2="571.26" y2="98.50" stroke="#2a2a2a" stroke-width="0.55"/>
<path d="M565.36 98.50 l2.7 -2.7 l2.7 2.7 l-2.7 2.7 z" fill="#000"/>
<line x1="564.41" y1="111.50" x2="570.50" y2="111.50" stroke="#2a2a2a" stroke-width="0.55"/>
<path d="M563.84 111.50 l2.7 -2.7 l2.7 2.7 l-2.7 2.7 z" fill="#000"/>
<line x1="563.65" y1="125.50" x2="607.26" y2="125.50" stroke="#2a2a2a" stroke-width="0.55"/>
<path d="M568.66 125.50 l2.7 -2.7 l2.7 2.7 l-2.7 2.7 z" fill="#000"/>
<line x1="565.93" y1="152.50" x2="569.99" y2="152.50" stroke="#2a2a2a" stroke-width="0.55"/>
<path d="M564.86 152.50 l2.7 -2.7 l2.7 2.7 l-2.7 2.7 z" fill="#000"/>
<line x1="563.65" y1="165.50" x2="594.58" y2="165.50" stroke="#2a2a2a" stroke-width="0.55"/>
<path d="M566.38 165.50 l2.7 -2.7 l2.7 2.7 l-2.7 2.7 z" fill="#000"/>
<line x1="565.68" y1="192.50" x2="574.30" y2="192.50" stroke="#2a2a2a" stroke-width="0.55"/>
<path d="M566.38 192.50 l2.7 -2.7 l2.7 2.7 l-2.7 2.7 z" fill="#000"/>
<line x1="565.17" y1="205.50" x2="569.74" y2="205.50" stroke="#2a2a2a" stroke-width="0.55"/>
<path d="M564.35 205.50 l2.7 -2.7 l2.7 2.7 l-2.7 2.7 z" fill="#000"/>
<line x1="564.92" y1="232.50" x2="571.77" y2="232.50" stroke="#2a2a2a" stroke-width="0.55"/>
<path d="M564.60 232.50 l2.7 -2.7 l2.7 2.7 l-2.7 2.7 z" fill="#000"/>
<line x1="565.68" y1="245.50" x2="571.00" y2="245.50" stroke="#2a2a2a" stroke-width="0.55"/>
<path d="M565.11 245.50 l2.7 -2.7 l2.7 2.7 l-2.7 2.7 z" fill="#000"/>
<line x1="566.95" y1="272.50" x2="574.30" y2="272.50" stroke="#2a2a2a" stroke-width="0.55"/>
<path d="M567.39 272.50 l2.7 -2.7 l2.7 2.7 l-2.7 2.7 z" fill="#000"/>
<line x1="564.16" y1="286.50" x2="568.22" y2="286.50" stroke="#2a2a2a" stroke-width="0.55"/>
<path d="M562.83 286.50 l2.7 -2.7 l2.7 2.7 l-2.7 2.7 z" fill="#000"/>
<line x1="567.20" y1="312.50" x2="574.30" y2="312.50" stroke="#2a2a2a" stroke-width="0.55"/>
<path d="M567.64 312.50 l2.7 -2.7 l2.7 2.7 l-2.7 2.7 z" fill="#000"/>
<line x1="563.65" y1="326.50" x2="567.20" y2="326.50" stroke="#2a2a2a" stroke-width="0.55"/>
<path d="M561.81 326.50 l2.7 -2.7 l2.7 2.7 l-2.7 2.7 z" fill="#000"/>
<line x1="563.91" y1="353.50" x2="677.48" y2="353.50" stroke="#2a2a2a" stroke-width="0.55"/>
<path d="M677.48 353.50 l-2 -1.3 M677.48 353.50 l-2 1.3" stroke="#2a2a2a" stroke-width="0.55" fill="none"/>
<path d="M583.36 353.50 l2.7 -2.7 l2.7 2.7 l-2.7 2.7 z" fill="#000"/>
<line x1="566.70" y1="366.50" x2="573.79" y2="366.50" stroke="#2a2a2a" stroke-width="0.55"/>
<path d="M566.88 366.50 l2.7 -2.7 l2.7 2.7 l-2.7 2.7 z" fill="#000"/>
<line x1="566.44" y1="393.50" x2="573.54" y2="393.50" stroke="#2a2a2a" stroke-width="0.55"/>
<path d="M566.63 393.50 l2.7 -2.7 l2.7 2.7 l-2.7 2.7 z" fill="#000"/>
<line x1="564.67" y1="406.50" x2="570.24" y2="406.50" stroke="#2a2a2a" stroke-width="0.55"/>
<path d="M563.84 406.50 l2.7 -2.7 l2.7 2.7 l-2.7 2.7 z" fill="#000"/>
<line x1="565.68" y1="433.50" x2="572.27" y2="433.50" stroke="#2a2a2a" stroke-width="0.55"/>
<path d="M565.62 433.50 l2.7 -2.7 l2.7 2.7 l-2.7 2.7 z" fill="#000"/>
<line x1="564.67" y1="447.50" x2="573.29" y2="447.50" stroke="#2a2a2a" stroke-width="0.55"/>
<path d="M565.11 447.50 l2.7 -2.7 l2.7 2.7 l-2.7 2.7 z" fill="#000"/>
<line x1="563" y1="460.35" x2="677.875" y2="460.35" stroke="#111" stroke-width="1.05"/>
<line x1="563.40" y1="460.35" x2="563.40" y2="463.75" stroke="#111" stroke-width="0.8"/>
<text transform="translate(0 473.50) rotate(0.03) scale(1.06 1)" font-size="7.6" x="529.21" y="0">0</text>
<line x1="576.07" y1="460.35" x2="576.07" y2="463.75" stroke="#111" stroke-width="0.8"/>
<text transform="translate(0 473.50) rotate(0.03) scale(1.06 1)" font-size="7.6" x="538.29 542.34 544.16" y="0">0.5</text>
<line x1="601.42" y1="460.35" x2="601.42" y2="463.75" stroke="#111" stroke-width="0.8"/>
<text transform="translate(0 473.50) rotate(0.03) scale(1.06 1)" font-size="7.6" x="562.54 565.56 567.38" y="0">1.5</text>
<line x1="626.77" y1="460.35" x2="626.77" y2="463.75" stroke="#111" stroke-width="0.8"/>
<text transform="translate(0 473.50) rotate(0.03) scale(1.06 1)" font-size="7.6" x="586.12 589.97 591.79" y="0">2.5</text>
<line x1="652.12" y1="460.35" x2="652.12" y2="463.75" stroke="#111" stroke-width="0.8"/>
<text transform="translate(0 473.50) rotate(0.03) scale(1.06 1)" font-size="7.6" x="610.04 613.89 615.70" y="0">3.5</text>
<line x1="677.48" y1="460.35" x2="677.48" y2="463.75" stroke="#111" stroke-width="0.8"/>
<text transform="translate(0 473.50) rotate(0.03) scale(1.06 1)" font-size="7.6" x="633.95 637.96 639.78" y="0">4.5</text>
<text transform="translate(333.60 486.7) rotate(0.03)" textLength="29.20" lengthAdjust="spacingAndGlyphs">Overall</text>
<text transform="translate(582.30 486.7) rotate(0.03)" textLength="75.60" lengthAdjust="spacingAndGlyphs">Compliance group</text>
</svg></body></html>
